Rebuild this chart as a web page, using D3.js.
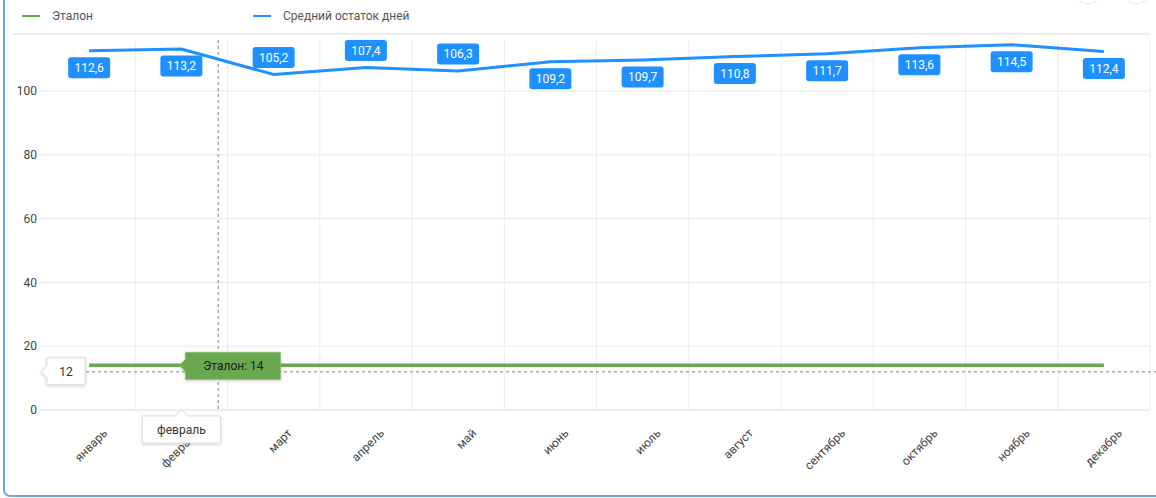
<!DOCTYPE html>
<html>
<head>
<meta charset="utf-8">
<script src="https://cdn.jsdelivr.net/npm/d3@7"></script>
<style>
  body { margin: 0; background: #fff; font-family: Roboto, "Noto Sans", sans-serif; }
  #chart { position: relative; width: 1156px; height: 498px; overflow: hidden; }
</style>
</head>
<body>
<div id="chart"></div>
<script>
var months = ["январь", "февраль", "март", "апрель", "май", "июнь", "июль", "август", "сентябрь", "октябрь", "ноябрь", "декабрь"];
var avgDays = [112.6, 113.2, 105.2, 107.4, 106.3, 109.2, 109.7, 110.8, 111.7, 113.6, 114.5, 112.4];
var etalon = [14, 14, 14, 14, 14, 14, 14, 14, 14, 14, 14, 14];
var yTicks = [0, 20, 40, 60, 80, 100];
var hoverMonth = "февраль";
var hoverValue = 12;

var width = 1156, height = 498;
var plotLeft = 43, plotRight = 1150, plotTop = 40, plotBottom = 410;

var svg = d3.select("#chart").append("svg")
  .attr("width", width)
  .attr("height", height);

// frame
svg.append("rect")
  .attr("x", 4).attr("y", -20)
  .attr("width", width + 20).attr("height", 516)
  .attr("rx", 6)
  .attr("fill", "none")
  .attr("stroke", "#6fa9dc")
  .attr("stroke-width", 2);

// little buttons at top right (cut off)
svg.selectAll("circle.btn").data([1088, 1137]).enter().append("circle")
  .attr("cx", d => d).attr("cy", -8).attr("r", 12)
  .attr("fill", "#fff").attr("stroke", "#e6e6e6");

// legend
var legend = [{name: "Эталон", color: "#6aa84f", x: 22}, {name: "Средний остаток дней", color: "#1e90ff", x: 253}];
var lg = svg.selectAll("g.legend").data(legend).enter().append("g")
  .attr("transform", d => `translate(${d.x},16)`);
lg.append("line").attr("x1", 0).attr("x2", 18)
  .attr("stroke", d => d.color).attr("stroke-width", 2);
lg.append("text").attr("x", 30).attr("dy", "0.35em")
  .style("font-size", "12px").attr("fill", "#555")
  .text(d => d.name);
svg.append("line").attr("x1", 13).attr("x2", 1150).attr("y1", 34).attr("y2", 34)
  .attr("stroke", "#e8e8e8").attr("stroke-width", 1.5);

var x = d3.scaleBand().domain(months).range([plotLeft, plotRight]).padding(0);
var y = d3.scaleLinear().domain([0, 116]).range([plotBottom, plotTop]);
var cx = d => x(d) + x.bandwidth() / 2;

// grid
svg.append("g").selectAll("line").data(yTicks).enter().append("line")
  .attr("x1", plotLeft - 4).attr("x2", plotRight)
  .attr("y1", d => y(d)).attr("y2", d => y(d))
  .attr("stroke", d => d === 0 ? "#ddd" : "#e8e8e8");
svg.append("g").selectAll("line").data(months).enter().append("line")
  .attr("x1", d => x(d) + x.bandwidth())
  .attr("x2", d => x(d) + x.bandwidth())
  .attr("y1", plotTop).attr("y2", plotBottom)
  .attr("stroke", "#ececec");

// y axis labels
svg.append("g").selectAll("text").data(yTicks).enter().append("text")
  .attr("x", 37).attr("y", d => y(d)).attr("dy", "0.35em")
  .attr("text-anchor", "end")
  .style("font-size", "12px").attr("fill", "#444")
  .text(d => d);

// x axis labels
svg.append("g").selectAll("text").data(months).enter().append("text")
  .attr("transform", d => `translate(${cx(d) + 16},${plotBottom + 21}) rotate(-45)`)
  .attr("text-anchor", "end")
  .attr("dy", "0.35em")
  .style("font-size", "12px").attr("fill", "#444")
  .text(d => d);

// crosshair
var hx = x(hoverMonth) + x.bandwidth() * 0.9;
svg.append("line").attr("x1", hx).attr("x2", hx).attr("y1", plotTop).attr("y2", plotBottom)
  .attr("stroke", "#aaa").attr("stroke-width", 1.5).attr("stroke-dasharray", "3,3");
svg.append("line").attr("x1", 86).attr("x2", width).attr("y1", y(hoverValue)).attr("y2", y(hoverValue))
  .attr("stroke", "#aaa").attr("stroke-width", 1.5).attr("stroke-dasharray", "3,3");

// lines
var line = d3.line().x((d, i) => cx(months[i])).y(d => y(d));
svg.append("path").datum(etalon)
  .attr("d", line).attr("fill", "none")
  .attr("stroke", "#6aa84f").attr("stroke-width", 3.5);
svg.append("path").datum(avgDays)
  .attr("d", line).attr("fill", "none")
  .attr("stroke", "#1e90ff").attr("stroke-width", 3);

// value labels
var fmt = v => String(v.toFixed(1)).replace(".", ",");
var labels = svg.append("g").selectAll("g").data(avgDays).enter().append("g")
  .attr("transform", (d, i) => {
    var py = y(d);
    var ly = d > 108 ? py + 17 : py - 17;
    return `translate(${cx(months[i])},${ly})`;
  });
labels.append("rect")
  .attr("x", -21).attr("y", -10.5).attr("width", 42).attr("height", 21)
  .attr("rx", 3).attr("fill", "#1e90ff");
labels.append("text").attr("text-anchor", "middle").attr("dy", "0.35em")
  .style("font-size", "12px").attr("fill", "#fff")
  .text(d => fmt(d));

// tooltips
var defs = svg.append("defs");
var f = defs.append("filter").attr("id", "sh").attr("x", "-20%").attr("y", "-30%").attr("width", "140%").attr("height", "170%");
f.append("feDropShadow").attr("dx", 0).attr("dy", 1).attr("stdDeviation", 1.5).attr("flood-color", "#000").attr("flood-opacity", 0.2);

// green series tooltip
var gx = cx(hoverMonth) - 2, gy = y(etalon[1]);
svg.append("path")
  .attr("d", `M${gx},${gy} l6,-6 v-7 h95 v27 h-95 v-8 z`)
  .attr("fill", "#6aa84f").attr("stroke", "#8cc06f").attr("filter", "url(#sh)");
svg.append("text").attr("x", gx + 54).attr("y", gy).attr("dy", "0.35em")
  .attr("text-anchor", "middle").style("font-size", "12px").attr("fill", "#1a1a1a")
  .text("Эталон: " + etalon[1]);

// y crosshair tooltip
var ty = y(hoverValue);
svg.append("path")
  .attr("d", `M41,${ty} l6,-6 v-8 h38 v27 h-38 v-7 z`)
  .attr("fill", "#fff").attr("stroke", "#ddd").attr("filter", "url(#sh)");
svg.append("text").attr("x", 66).attr("y", ty).attr("dy", "0.35em")
  .attr("text-anchor", "middle").style("font-size", "12px").attr("fill", "#333")
  .text(hoverValue);

// x crosshair tooltip
var tx = cx(hoverMonth);
svg.append("path")
  .attr("d", `M${tx},${plotBottom} l6,6 h33 v27 h-78 v-27 h33 z`)
  .attr("fill", "#fff").attr("stroke", "#ddd").attr("filter", "url(#sh)");
svg.append("text").attr("x", tx).attr("y", plotBottom + 20).attr("dy", "0.35em")
  .attr("text-anchor", "middle").style("font-size", "12px").attr("fill", "#333")
  .text(hoverMonth);
</script>
</body>
</html>
